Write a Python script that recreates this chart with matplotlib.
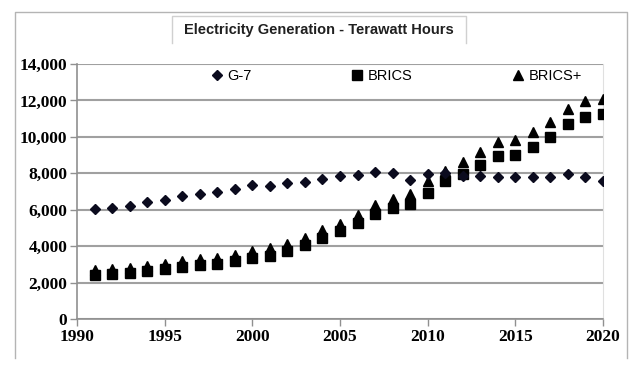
import matplotlib.pyplot as plt
from matplotlib.lines import Line2D
import numpy as np

years = np.arange(1991, 2021)

g7 = [6050, 6070, 6210, 6400, 6560, 6730, 6840, 6990, 7130, 7350,
      7300, 7460, 7540, 7700, 7870, 7920, 8050, 8030, 7630, 7960,
      8000, 7850, 7850, 7810, 7810, 7810, 7780, 7940, 7810, 7560]

brics = [2440, 2480, 2540, 2610, 2740, 2870, 2940, 3030, 3160, 3350,
         3470, 3730, 4040, 4450, 4830, 5290, 5790, 6070, 6300, 6930,
         7560, 7980, 8460, 8950, 9030, 9450, 10000, 10680, 11080, 11270]

brics_plus = [2700, 2740, 2790, 2900, 3030, 3180, 3290, 3360, 3510, 3730,
              3880, 4140, 4470, 4870, 5240, 5700, 6270, 6580, 6860, 7570,
              8140, 8640, 9150, 9710, 9820, 10240, 10790, 11540, 11950, 12080]

title = "Electricity Generation - Terawatt Hours"

W, H = 642, 374
fig = plt.figure(figsize=(W / 100, H / 100), dpi=100)
ax = fig.add_axes([77 / W, 1 - 319 / H, (603 - 77) / W, (319 - 64) / H])

ax.plot(years, brics_plus, '^', color='black', ms=7.5, ls='none', label='BRICS+', zorder=3)
ax.plot(years, brics, 's', color='black', ms=7.5, ls='none', label='BRICS', zorder=4)
ax.plot(years, g7, 'D', color='#0b0b1e', ms=5, ls='none', label='G-7', zorder=5)

ax.set_xlim(1990, 2020)
ax.set_ylim(0, 14000)
ax.set_xticks(range(1990, 2021, 5))
ax.set_yticks(range(0, 14001, 2000))
ax.set_yticklabels([f"{v:,}" for v in range(0, 14001, 2000)])
for lab in ax.get_xticklabels() + ax.get_yticklabels():
    lab.set_fontfamily('Liberation Serif')
    lab.set_fontweight('bold')
    lab.set_fontsize(12.5)

ax.yaxis.grid(True, color='#a0a0a0', lw=1.5)
ax.set_axisbelow(True)
ax.spines['top'].set_visible(False)
ax.spines['right'].set_color('#e0e0e0')
ax.spines['left'].set_color('#909090')
ax.spines['bottom'].set_color('#909090')
ax.spines['left'].set_linewidth(1.2)
ax.spines['bottom'].set_linewidth(1.2)
ax.tick_params(axis='both', color='#909090', length=5, width=1, pad=2)

handles, labels = ax.get_legend_handles_labels()
order = [2, 1, 0]
leg = ax.legend([handles[i] for i in order], [labels[i] for i in order],
                ncol=3, loc='upper left', bbox_to_anchor=(0.235, 1.02),
                frameon=False, handlelength=0.8, handletextpad=0.35,
                columnspacing=6.8, borderaxespad=0.3,
                prop={'family': 'Liberation Sans', 'size': 10.5})

# outer frame (no bottom edge) and title box
gray = '#b4b4b4'
fig.add_artist(Line2D([15 / W, 15 / W, 627 / W, 627 / W],
                      [1 - 358 / H, 1 - 12 / H, 1 - 12 / H, 1 - 358 / H],
                      color=gray, lw=1))
fig.add_artist(Line2D([172 / W, 172 / W, 466 / W, 466 / W],
                      [1 - 43 / H, 1 - 16 / H, 1 - 16 / H, 1 - 43 / H],
                      color='#d0d0d0', lw=1))
fig.text(319 / W, 1 - 30 / H, title, ha='center', va='center',
         fontsize=10.5, fontweight='bold', family='Liberation Sans', color='#202020')

fig.savefig('out.png', dpi=100)
